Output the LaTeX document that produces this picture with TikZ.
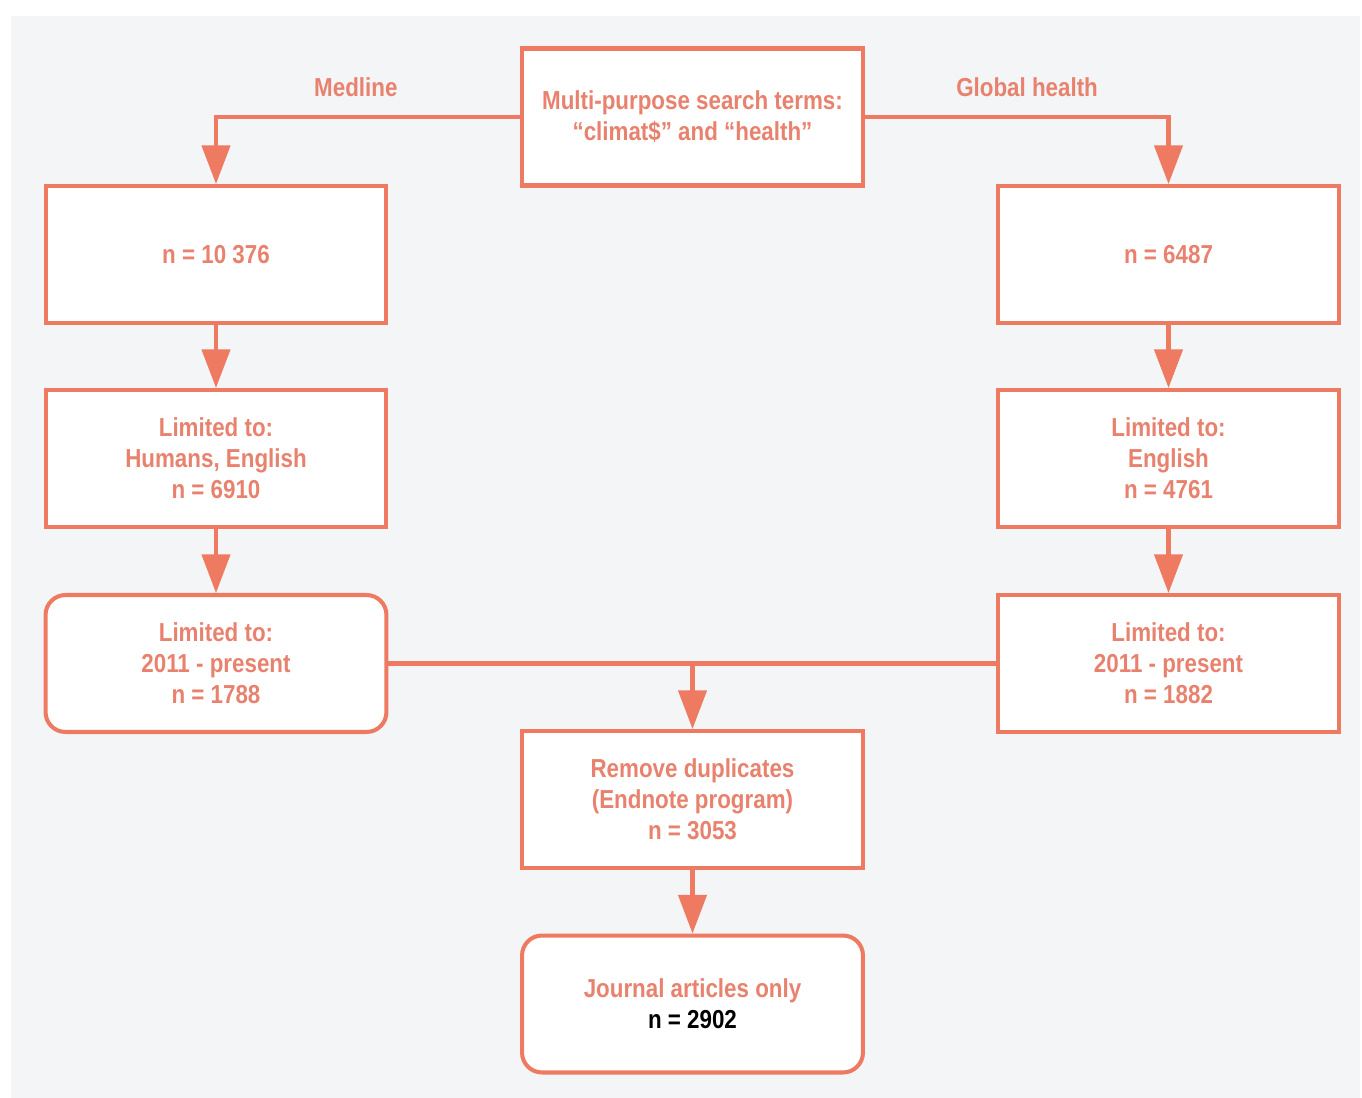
\documentclass[tikz,border=0pt]{standalone}
\usepackage{fontspec}
\setmainfont{Liberation Sans}[FakeStretch=0.86]
\usetikzlibrary{arrows.meta}
\definecolor{salmon}{HTML}{EE7A62}
\definecolor{salmontext}{HTML}{E8826E}
\definecolor{panel}{HTML}{F4F5F6}
\tikzset{>={Triangle[length=22pt,width=16pt]}}
\tikzset{box/.style={draw=salmon, line width=2.3pt, fill=white, align=center,
    minimum width=6.82cm, minimum height=2.74cm, text=salmontext,
    font=\bfseries\fontsize{14.8}{17.6}\selectfont},
  rbox/.style={box, rounded corners=0.4cm},
  lbl/.style={text=salmontext, font=\bfseries\fontsize{14.8}{17.6}\selectfont},
  link/.style={draw=salmon, line width=2.3pt}}

\begin{document}
\begin{tikzpicture}[x=0.02cm, y=-0.02cm]
    \useasboundingbox (0, 0) rectangle (1362, 1098);
    \fill[panel] (11, 16) rectangle (1360, 1098);
    % search terms
    \node[box] (top) at (692.5, 117) {Multi-purpose search terms:\\“climat\$” and “health”};
    % Medline column
    \node[box] (ml1) at (216, 254.5) {n = 10 376};
    \node[box] (ml2) at (216, 458.5) {Limited to:\\Humans, English\\n = 6910};
    \node[rbox] (ml3) at (216, 663.5) {Limited to:\\2011 - present\\n = 1788};
    % Global health column
    \node[box] (gh1) at (1168.5, 254.5) {n = 6487};
    \node[box] (gh2) at (1168.5, 458.5) {Limited to:\\English\\n = 4761};
    \node[box] (gh3) at (1168.5, 663.5) {Limited to:\\2011 - present\\n = 1882};
    % merged
    \node[box] (dup) at (692.5, 799.5) {Remove duplicates\\(Endnote program)\\n = 3053};
    \node[rbox] (jrn) at (692.5, 1004) {Journal articles only\\\textcolor{black}{n = 2902}};
    \coordinate (merge) at (dup.north |- ml3.east);

    \draw[link, ->] (top.west) -| (ml1.north) node[lbl, pos=.27, above=7pt]{Medline};
    \draw[link, ->] (top.east) -| (gh1.north) node[lbl, pos=.267, above=7pt]{Global health};
    \draw[link, ->] (ml1.south) -- (ml2.north);
    \draw[link, ->] (ml2.south) -- (ml3.north);
    \draw[link, ->] (gh1.south) -- (gh2.north);
    \draw[link, ->] (gh2.south) -- (gh3.north);
    \draw[link] (ml3.east) -- (gh3.west);
    \draw[link, ->] (merge) -- (dup.north);
    \draw[link, ->] (dup.south) -- (jrn.north);
\end{tikzpicture}
\end{document}
